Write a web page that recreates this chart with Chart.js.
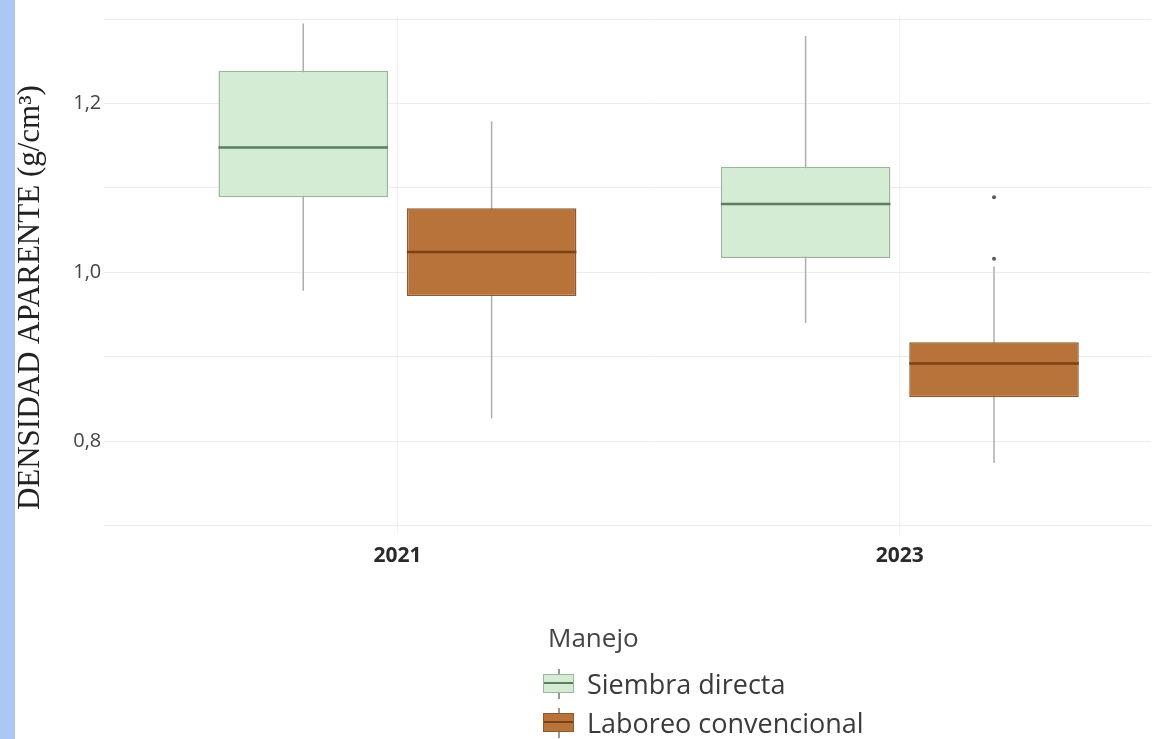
<!DOCTYPE html>
<html>
<head>
<meta charset="utf-8">
<script src="https://cdn.jsdelivr.net/npm/chart.js@4.4.0/dist/chart.umd.min.js"></script>
<style>
  html, body { margin: 0; padding: 0; background: #fff; }
  #wrap { position: relative; width: 1165px; height: 739px; overflow: hidden; }
  #strip { position: absolute; left: 0; top: 0; width: 15px; height: 739px; background: #aac8f3; }
  #legend { position: absolute; left: 543px; top: 620px; font-family: 'Open Sans', sans-serif; color: #444; }
  #legend .ttl { font-size: 26px; line-height: 34px; height: 44px; margin-left: 5px; }
  #legend .item { display: flex; align-items: center; height: 39px; font-size: 27px; color: #3a3a3a; }
  #legend .icon { position: relative; width: 32px; height: 30px; margin-right: 12px; }
  #legend .icon .wh { position: absolute; left: 15px; top: 0; width: 2px; height: 30px; background: #999; }
  #legend .icon .bx { position: absolute; left: 0; top: 5px; width: 29px; height: 17px; border-width: 1.5px; border-style: solid; }
  #legend .icon .md { position: absolute; left: 0; top: 7px; width: 29px; height: 2px; }
</style>
</head>
<body>
<div id="wrap">
  <canvas id="chart" width="1165" height="739"></canvas>
  <div id="strip"></div>
  <div id="legend"></div>
</div>
<script>
const years = ['2021', '2023'];
const seriesNames = ['Siembra directa', 'Laboreo convencional'];

// Siembra directa
const sdMin = [0.978, 0.940];
const sdQ1 = [1.089, 1.017];
const sdMedian = [1.148, 1.081];
const sdQ3 = [1.239, 1.125];
const sdMax = [1.295, 1.280];
const sdOutliers = [[], []];

// Laboreo convencional
const lcMin = [0.827, 0.774];
const lcQ1 = [0.972, 0.852];
const lcMedian = [1.024, 0.892];
const lcQ3 = [1.076, 0.917];
const lcMax = [1.179, 1.007];
const lcOutliers = [[], [1.016, 1.089]];

const yTickLabels = [0.8, 1.0, 1.2];

// draws whiskers under the boxes, medians and outliers over them
const boxParts = {
  id: 'boxParts',
  beforeDatasetsDraw(chart) {
    const ctx = chart.ctx;
    const y = chart.scales.y;
    chart.data.datasets.forEach((ds, i) => {
      const meta = chart.getDatasetMeta(i);
      meta.data.forEach((bar, j) => {
        ctx.save();
        ctx.strokeStyle = ds.whiskerColor;
        ctx.lineWidth = 1.5;
        ctx.beginPath();
        ctx.moveTo(bar.x, y.getPixelForValue(ds.min[j]));
        ctx.lineTo(bar.x, y.getPixelForValue(ds.max[j]));
        ctx.stroke();
        ctx.restore();
      });
    });
  },
  afterDatasetsDraw(chart) {
    const ctx = chart.ctx;
    const y = chart.scales.y;
    chart.data.datasets.forEach((ds, i) => {
      const meta = chart.getDatasetMeta(i);
      meta.data.forEach((bar, j) => {
        const half = bar.width / 2;
        const my = y.getPixelForValue(ds.median[j]);
        ctx.save();
        ctx.strokeStyle = ds.medianColor;
        ctx.lineWidth = 2.5;
        ctx.beginPath();
        ctx.moveTo(bar.x - half, my);
        ctx.lineTo(bar.x + half, my);
        ctx.stroke();
        ctx.fillStyle = '#5a5a5a';
        ds.outliers[j].forEach(v => {
          ctx.beginPath();
          ctx.arc(bar.x, y.getPixelForValue(v), 2, 0, Math.PI * 2);
          ctx.fill();
        });
        ctx.restore();
      });
    });
  }
};

const datasets = [
  {
    label: seriesNames[0],
    data: years.map((_, i) => [sdQ1[i], sdQ3[i]]),
    min: sdMin, max: sdMax, median: sdMedian, outliers: sdOutliers,
    backgroundColor: '#d4ebd4',
    borderColor: '#9db59d',
    medianColor: '#5d7d5d',
    whiskerColor: '#adadad',
  },
  {
    label: seriesNames[1],
    data: years.map((_, i) => [lcQ1[i], lcQ3[i]]),
    min: lcMin, max: lcMax, median: lcMedian, outliers: lcOutliers,
    backgroundColor: '#b8733a',
    borderColor: '#8e5a2c',
    medianColor: '#7b4214',
    whiskerColor: '#adadad',
  },
];

const ctx = document.getElementById('chart').getContext('2d');
Chart.defaults.font.family = "'Open Sans', sans-serif";

const chart = new Chart(ctx, {
  type: 'bar',
  data: {
    labels: years,
    datasets: datasets.map(d => Object.assign({
      borderWidth: 1.5,
      borderSkipped: false,
      categoryPercentage: 0.75,
      barPercentage: 0.9,
    }, d)),
  },
  options: {
    responsive: false,
    animation: false,
    devicePixelRatio: 1,
    layout: {
      padding: { left: 8, right: 14, top: 15, bottom: 160 },
    },
    plugins: {
      legend: { display: false },
      tooltip: { enabled: false },
    },
    scales: {
      x: {
        grid: {
          color: '#f2f2f2',
          offset: false,
          drawTicks: false,
        },
        border: { display: false },
        ticks: {
          padding: 10,
          color: '#2a2a2a',
          font: { size: 21, weight: 'bold' },
        },
      },
      y: {
        min: 0.69,
        max: 1.305,
        stacked: false,
        grid: {
          color: '#ececec',
          tickLength: 42,
        },
        border: { display: false },
        ticks: {
          stepSize: 0.1,
          includeBounds: false,
          padding: 3,
          color: '#444',
          font: { size: 20 },
          callback: value => yTickLabels.some(t => Math.abs(t - value) < 1e-6)
            ? value.toFixed(1).replace('.', ',') : '',
        },
        title: {
          display: true,
          text: 'DENSIDAD APARENTE (g/cm³)      ',
          color: '#222',
          font: { family: "'Liberation Serif', serif", size: 31 },
          padding: { top: 4, bottom: 21 },
        },
      },
    },
  },
  plugins: [boxParts],
});

// html legend, plotly style
const legend = document.getElementById('legend');
legend.innerHTML = '<div class="ttl">Manejo</div>';
chart.data.datasets.forEach(ds => {
  const item = document.createElement('div');
  item.className = 'item';
  item.innerHTML =
    '<span class="icon"><span class="wh"></span>' +
    '<span class="bx" style="background:' + ds.backgroundColor + ';border-color:' + ds.borderColor + '">' +
    '<span class="md" style="background:' + ds.medianColor + '"></span></span></span>' +
    '<span>' + ds.label + '</span>';
  legend.appendChild(item);
});
</script>
</body>
</html>
